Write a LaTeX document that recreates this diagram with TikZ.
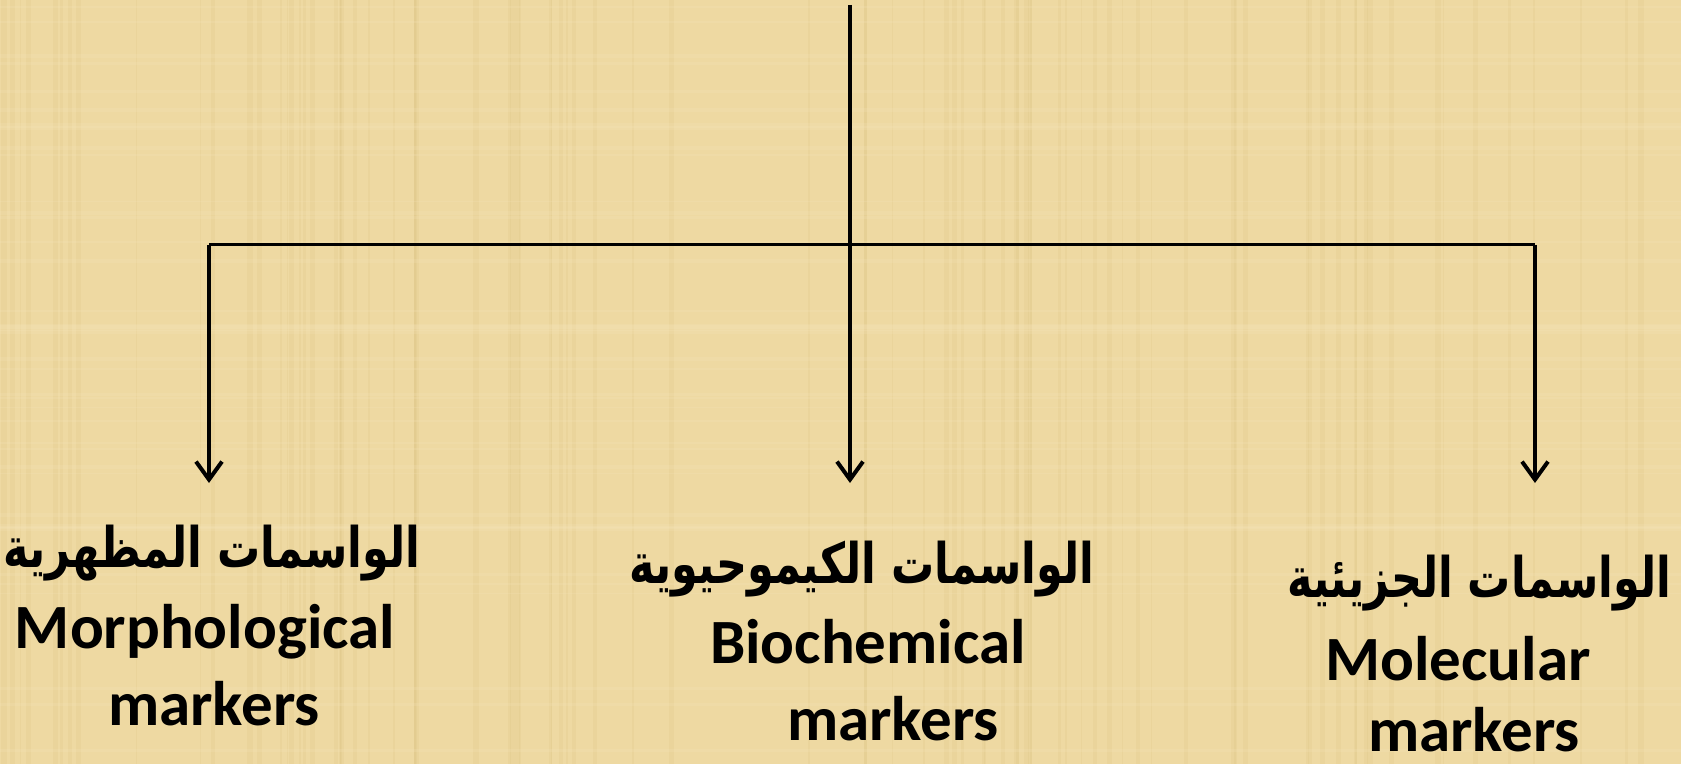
\documentclass[tikz,border=0pt]{standalone}
\usepackage{fontspec}
\setmainfont{Carlito}
\newfontfamily\arabicfont[Script=Arabic]{DejaVu Sans}
\TeXXeTstate=1
\usetikzlibrary{arrows.meta}
\definecolor{papyrus}{RGB}{238,217,162}
\definecolor{papyrusdark}{RGB}{212,186,116}
\definecolor{papyruslight}{RGB}{247,230,186}
\newcommand\artxt[1]{\scalebox{1}[1.3]{\beginR #1\endR}}

\begin{document}
\begin{tikzpicture}[
  x=1pt, y=1pt,
  ar/.style={font=\arabicfont\bfseries\fontsize{43}{50}\selectfont, inner sep=0pt, anchor=base},
  en/.style={font=\bfseries\fontsize{63}{76}\selectfont, inner sep=0pt, anchor=base},
  link/.style={line width=3pt},
  stem/.style={line width=4pt},
  arr/.style={line width=4pt, -{Straight Barb[length=18pt, width=26pt, line width=4pt]}}
]
% ---- background ----
\fill[papyrus] (0,0) rectangle (1681,764);
\pgfmathsetseed{11}
\foreach \i in {1,...,90}{
  \pgfmathsetmacro\xa{rnd*1681}
  \pgfmathsetmacro\wa{1+rnd*5}
  \fill[papyrusdark, opacity=0.15] (\xa,0) rectangle ++(\wa,764);
}
\foreach \i in {1,...,40}{
  \pgfmathsetmacro\ya{rnd*764}
  \pgfmathsetmacro\wa{1+rnd*4}
  \fill[papyruslight, opacity=0.22] (0,\ya) rectangle ++(1681,\wa);
}
\useasboundingbox (0,0) rectangle (1681,764);

% ---- tree skeleton ----
\coordinate (top) at (850,759);
\coordinate (hub) at (850,519);
\coordinate (lft) at (209,519);
\coordinate (rgt) at (1535,519);
\coordinate (morphin) at (209,281);
\coordinate (bioin) at (850,281);
\coordinate (molin) at (1535,281);

% ---- morphological ----
\node[ar] (morphar) at (212,197) {\artxt{الواسمات المظهرية}};
\node[en] (morphen) at (205,116) {Morphological};
\node[en] (morphmk) at (214,39) {markers};

% ---- biochemical ----
\node[ar] (bioar) at (862,181) {\artxt{الواسمات الكيموحيوية}};
\node[en] (bioen) at (868,101) {Biochemical};
\node[en] (biomk) at (893,24) {markers};

% ---- molecular ----
\node[ar] (molar) at (1479,167) {\artxt{الواسمات الجزيئية}};
\node[en] (molen) at (1458,84) {Molecular};
\node[en] (molmk) at (1474,13) {markers};

% ---- connectors ----
\draw[stem] (top) -- (hub);
\draw[link] (lft) -- (rgt);
\draw[arr] (lft) -- (morphin);
\draw[arr] (hub) -- (bioin);
\draw[arr] (rgt) -- (molin);
\end{tikzpicture}
\end{document}
